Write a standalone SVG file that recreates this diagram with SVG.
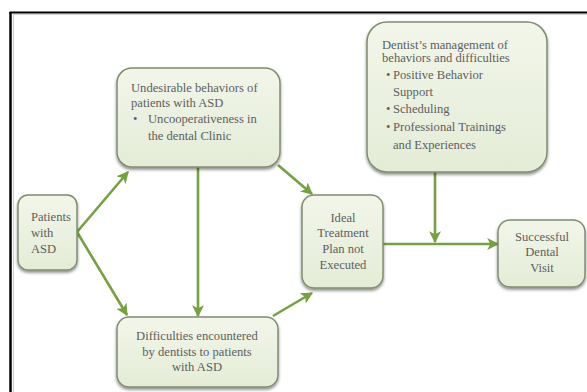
<svg xmlns="http://www.w3.org/2000/svg" width="587" height="392" viewBox="0 0 587 392">
<defs>
<linearGradient id="g" x1="0" y1="0" x2="0" y2="1">
<stop offset="0" stop-color="#f2f6ea"/>
<stop offset="1" stop-color="#e4ecd7"/>
</linearGradient>
<filter id="sh" x="-10%" y="-10%" width="125%" height="130%">
<feDropShadow dx="0" dy="2" stdDeviation="1.5" flood-color="#000" flood-opacity="0.45"/>
</filter>
<marker id="ah" viewBox="0 0 10 10" refX="9" refY="5" markerWidth="4.6" markerHeight="4.6" orient="auto" markerUnits="strokeWidth">
<path d="M0,0 L10,5 L0,10 L2.5,5 Z" fill="#76a044"/>
</marker>
<style>
.box{fill:url(#g);stroke:#7f8d6f;stroke-width:1.5;filter:url(#sh)}
.t{font-family:"Liberation Serif","Times New Roman",serif;font-size:12.6px;fill:#5e5e5e}
.c{text-anchor:middle}
.ar{stroke:#76a044;stroke-width:2.6;fill:none;marker-end:url(#ah)}
</style>
</defs>
<rect width="587" height="392" fill="#fff"/>
<g id="frame">
<line x1="13.5" y1="14.5" x2="13.5" y2="392" stroke="#cfcfcf" stroke-width="1.2"/>
<line x1="13.5" y1="14.5" x2="587" y2="14.5" stroke="#cfcfcf" stroke-width="1.2"/>
<line x1="10.5" y1="12" x2="10.5" y2="392" stroke="#000" stroke-width="2.5"/>
<line x1="9.5" y1="12.5" x2="587" y2="12.5" stroke="#000" stroke-width="2"/>
</g>
<g id="connectors">
<line class="ar" x1="77" y1="232" x2="128" y2="172"/>
<line class="ar" x1="77" y1="232" x2="127" y2="315"/>
<line class="ar" x1="198" y1="167" x2="198" y2="316"/>
<line class="ar" x1="278" y1="165" x2="312" y2="194"/>
<line class="ar" x1="273" y1="316" x2="312" y2="293"/>
<line class="ar" x1="435" y1="172" x2="435" y2="242"/>
<line class="ar" x1="383" y1="244" x2="498" y2="244"/>
</g>
<g id="undesirable">
<rect class="box" x="117" y="68" width="163" height="99" rx="15"/>
<text class="t" x="131" y="92">Undesirable behaviors of</text>
<text class="t" x="131" y="107">patients with ASD</text>
<text class="t" x="133" y="123">•</text>
<text class="t" x="148" y="123">Uncooperativeness in</text>
<text class="t" x="148" y="140">the dental Clinic</text>
</g>
<g id="dentist">
<rect class="box" x="367" y="22" width="180" height="150" rx="20"/>
<text class="t" x="382" y="49">Dentist’s management of</text>
<text class="t" x="382" y="62">behaviors and difficulties</text>
<text class="t" x="386" y="79">•</text>
<text class="t" x="393" y="79">Positive Behavior</text>
<text class="t" x="393" y="96">Support</text>
<text class="t" x="386" y="113">•</text>
<text class="t" x="393" y="113">Scheduling</text>
<text class="t" x="386" y="131">•</text>
<text class="t" x="393" y="131">Professional Trainings</text>
<text class="t" x="393" y="149">and Experiences</text>
</g>
<g id="patients">
<rect class="box" x="18" y="195" width="59" height="75" rx="10"/>
<text class="t" x="31" y="221">Patients</text>
<text class="t" x="31" y="237">with</text>
<text class="t" x="31" y="253">ASD</text>
</g>
<g id="difficulties">
<rect class="box" x="117" y="317" width="161" height="70" rx="12"/>
<text class="t c" x="197" y="340">Difficulties encountered</text>
<text class="t c" x="197" y="356">by dentists to patients</text>
<text class="t c" x="197" y="371">with ASD</text>
</g>
<g id="ideal">
<rect class="box" x="302" y="195" width="81" height="93" rx="12"/>
<text class="t c" x="343" y="222">Ideal</text>
<text class="t c" x="343" y="237">Treatment</text>
<text class="t c" x="343" y="253">Plan not</text>
<text class="t c" x="343" y="269">Executed</text>
</g>
<g id="successful">
<rect class="box" x="498" y="220" width="87" height="67" rx="12"/>
<text class="t c" x="542" y="241">Successful</text>
<text class="t c" x="542" y="256">Dental</text>
<text class="t c" x="542" y="272">Visit</text>
</g>
</svg>
